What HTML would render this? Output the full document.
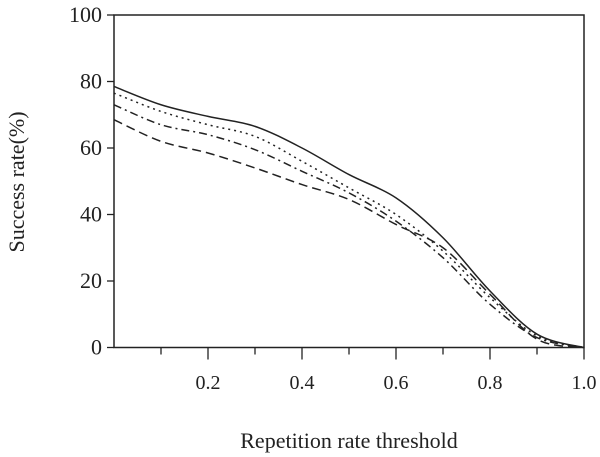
<!DOCTYPE html>
<html><head><meta charset="utf-8"><style>
body{margin:0;background:#fff;}
svg{display:block;font-family:"Liberation Serif",serif;}
</style></head><body>
<svg id="chart" width="600" height="457" viewBox="0 0 600 457"></svg>
<script>
const xValues=[0,0.1,0.2,0.3,0.4,0.5,0.6,0.7,0.8,0.9,1.0];
const seriesSolid=[78.5,73,69.5,66.5,60,52,45,33,17,4,0];
const seriesDotted=[76.5,71,67,63.5,56,48,40,29,15,3.5,0];
const seriesDashDot=[73,67,64,59.5,53,46.5,38,27,13,3,0];
const seriesDashed=[68.5,62,58.5,54,49,44.5,37,30,16,2.5,0];
const xTickLabels=["0.2","0.4","0.6","0.8","1.0"];
const xTickVals=[0.2,0.4,0.6,0.8,1.0];
const yTickVals=[0,20,40,60,80,100];
const NS="http://www.w3.org/2000/svg";
const svg=document.getElementById('chart');
const L=114,R=584,T=15,B=347.5;
const xs=v=>L+(R-L)*v;
const ys=v=>B-(B-T)*v/100;
function mk(tag,attrs){const e=document.createElementNS(NS,tag);for(const k in attrs)e.setAttribute(k,attrs[k]);svg.appendChild(e);return e;}
const frame=mk('rect',{x:L,y:T,width:R-L,height:B-T,fill:'none',stroke:'#222','stroke-width':1.5});


for(let i=1;i<=10;i++){const v=i/10;const major=i%2===0;
 const t=mk('line',{x1:xs(v),x2:xs(v),y1:B,y2:B+(major?12:7),stroke:'#222','stroke-width':1.3});
 
 }
xTickVals.forEach((v,i)=>{const t=mk('text',{x:xs(v),y:389,'text-anchor':'middle','font-size':20,fill:'#222'});t.textContent=xTickLabels[i];
 
 });
yTickVals.forEach(v=>{const l=mk('line',{x1:L-7,x2:L,y1:ys(v),y2:ys(v),stroke:'#222','stroke-width':1.3});
 
 
 const t=mk('text',{x:L-12,y:ys(v)+7,'text-anchor':'end','font-size':22,fill:'#222'});t.textContent=String(v);
 
 });
const xt=mk('text',{x:349,y:448,'text-anchor':'middle','font-size':22,fill:'#222'});xt.textContent='Repetition rate threshold';


const yt=mk('text',{x:0,y:0,'text-anchor':'middle','font-size':22,fill:'#222',transform:'translate(24,182) rotate(-90)'});yt.textContent='Success rate(%)';


function path(vals){const p=xValues.map((x,i)=>[xs(x),ys(vals[i])]);let d='M'+p[0][0]+','+p[0][1];
 for(let i=0;i<p.length-1;i++){const p0=p[Math.max(0,i-1)],p1=p[i],p2=p[i+1],p3=p[Math.min(p.length-1,i+2)];
 const c1=[p1[0]+(p2[0]-p0[0])/6,p1[1]+(p2[1]-p0[1])/6],c2=[p2[0]-(p3[0]-p1[0])/6,p2[1]-(p3[1]-p1[1])/6];
 d+=` C${c1[0]},${c1[1]} ${c2[0]},${c2[1]} ${p2[0]},${p2[1]}`;}return d;}
[[seriesSolid,'',"line-solid"],[seriesDotted,'2,4',"line-dotted"],[seriesDashDot,'8,4,2,4',"line-dash-dot"],[seriesDashed,'9,5',"line-dashed"]].forEach(s=>{
 const e=mk('path',{d:path(s[0]),fill:'none',stroke:'#222','stroke-width':1.5,'stroke-dasharray':s[1]||'none'});
 
 });
</script>
</body></html>
